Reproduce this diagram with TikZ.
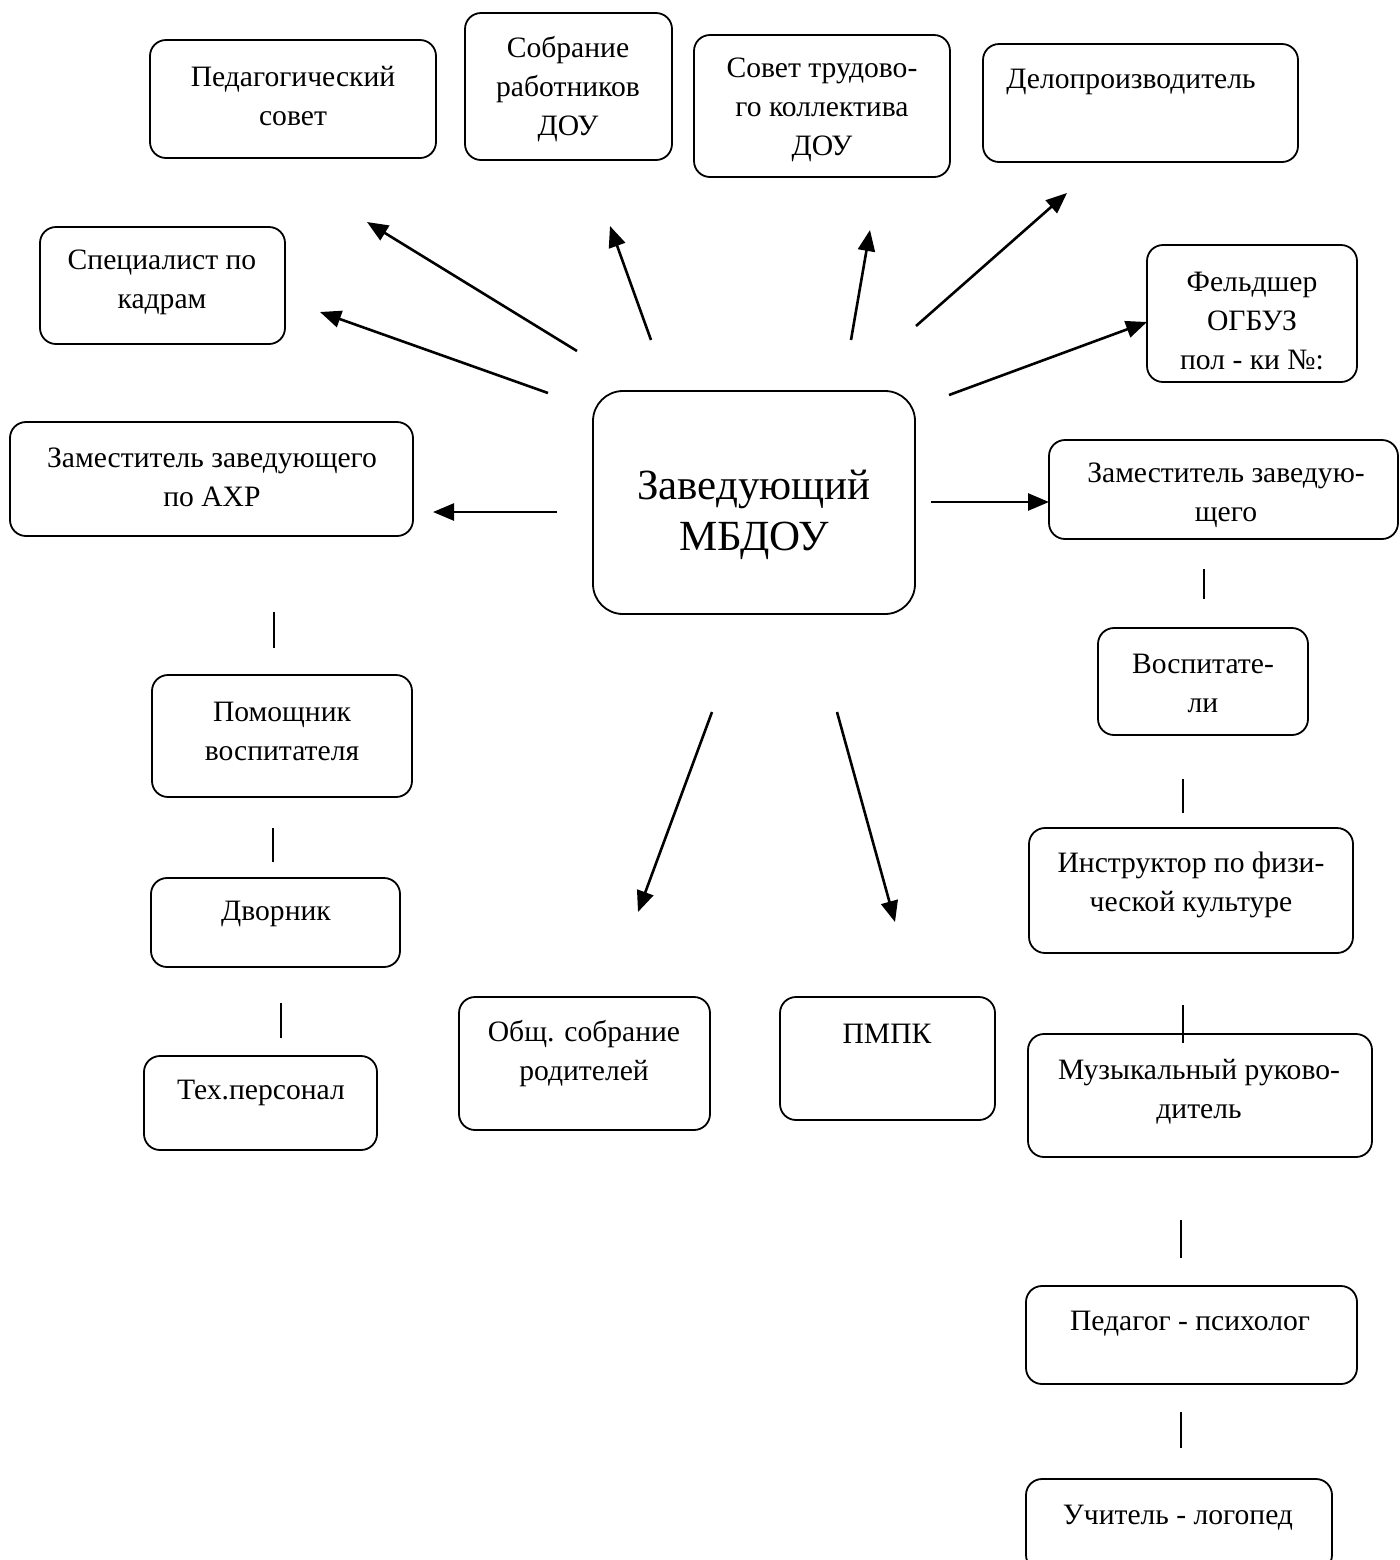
\documentclass[tikz,border=0pt]{standalone}
\usepackage{fontspec}
\setmainfont{Liberation Serif}
\usetikzlibrary{arrows.meta}

\tikzset{
  blk/.style={draw, rounded corners=8pt, line width=0.9pt, inner sep=0pt},
  txt/.style={align=center, inner sep=0pt, yshift=-1.5pt, font=\fontsize{14.8}{19.5}\selectfont},
  arr/.style={line width=1.3pt, -{Triangle[length=10.5pt,width=8.5pt]}},
  tick/.style={line width=0.8pt}
}

\begin{document}
\begin{tikzpicture}[x=0.5pt,y=-0.5pt]
\useasboundingbox (0,0) rectangle (1400,1560);

% top row
\node[blk, minimum width=143pt, minimum height=59pt] (ped) at (293,99) {};
\node[txt] (pedT) at (293,93) {Педагогический\\совет};
\node[blk, minimum width=103.5pt, minimum height=73.5pt] (sobr) at (568.5,86.5) {};
\node[txt] (sobrT) at (568,86.5) {Собрание\\работников\\ДОУ};
\node[blk, minimum width=128pt, minimum height=71pt] (stk) at (822,106) {};
\node[txt] (stkT) at (822,107) {Совет трудово-\\го коллектива\\ДОУ};
\node[blk, minimum width=157.5pt, minimum height=59pt] (delo) at (1140.5,103) {};
\node[txt] (deloT) at (1131,79) {Делопроизводитель};
\node[blk, minimum width=122.5pt, minimum height=58.5pt] (kadr) at (162.5,285.5) {};
\node[txt] (kadrT) at (162,279) {Специалист по\\кадрам};
\node[blk, minimum width=105pt, minimum height=68.5pt] (feld) at (1252,313.5) {};
\node[txt] (feldT) at (1252,318) {Фельдшер\\ОГБУЗ\\пол - ки №:};

% centre
\node[blk, rounded corners=15pt, minimum width=161pt, minimum height=111.5pt] (zav) at (754,502.5) {};
\node[txt, font=\fontsize{21.5}{25.5}\selectfont] (zavT) at (754,512) {Заведующий\\МБДОУ};

% left column
\node[blk, minimum width=201.5pt, minimum height=57pt] (ahr) at (211.5,479) {};
\node[txt] (ahrT) at (212,474) {Заместитель заведующего\\по АХР};
\node[blk, minimum width=130pt, minimum height=61pt] (pom) at (282,736) {};
\node[txt] (pomT) at (282,728) {Помощник\\воспитателя};
\node[blk, minimum width=124.5pt, minimum height=44.5pt] (dvor) at (275.5,922.5) {};
\node[txt] (dvorT) at (276,911) {Дворник};
\node[blk, minimum width=116.5pt, minimum height=47pt] (teh) at (260.5,1103) {};
\node[txt] (tehT) at (261,1090) {Тех.персонал};

% bottom middle
\node[blk, minimum width=125.5pt, minimum height=66.5pt] (rod) at (584.5,1063.5) {};
\node[txt] (rodT) at (584,1051) {Общ. собрание\\родителей};
\node[blk, minimum width=107.5pt, minimum height=61.5pt] (pmpk) at (887.5,1058.5) {};
\node[txt] (pmpkT) at (887,1031) {ПМПК};

% right column
\node[blk, minimum width=174.5pt, minimum height=49.5pt] (zam) at (1223.5,489.5) {};
\node[txt] (zamT) at (1226,492) {Заместитель заведую-\\щего};
\node[blk, minimum width=105pt, minimum height=53.5pt] (vosp) at (1203,681.5) {};
\node[txt] (vospT) at (1203,680) {Воспитате-\\ли};
\node[blk, minimum width=162pt, minimum height=62.5pt] (fiz) at (1191,890.5) {};
\node[txt] (fizT) at (1191,882) {Инструктор по физи-\\ческой культуре};
\node[blk, minimum width=172pt, minimum height=61.5pt] (muz) at (1200,1095.5) {};
\node[txt] (muzT) at (1199,1089) {Музыкальный руково-\\дитель};
\node[blk, minimum width=165.5pt, minimum height=49pt] (psy) at (1191.5,1335) {};
\node[txt] (psyT) at (1190,1321) {Педагог - психолог};
\node[blk, minimum width=153pt, minimum height=46pt] (log) at (1179,1525) {};
\node[txt] (logT) at (1178,1515) {Учитель - логопед};

% arrow ends
\coordinate (a1) at (577,351);  \coordinate (b1) at (367,222);
\coordinate (a2) at (651,340);  \coordinate (b2) at (610,226);
\coordinate (a3) at (851,340);  \coordinate (b3) at (870,230);
\coordinate (a4) at (916,326);  \coordinate (b4) at (1067,193);
\coordinate (a5) at (548,393);  \coordinate (b5) at (320,312);
\coordinate (a6) at (949,395);  \coordinate (b6) at (1147,322);
\coordinate (a7) at (557,512);  \coordinate (b7) at (433,512);
\coordinate (a8) at (931,502);  \coordinate (b8) at (1049,502);
\coordinate (a9) at (712,712);  \coordinate (b9) at (638,912);
\coordinate (a10) at (837,712); \coordinate (b10) at (895,922);

\foreach \i in {1,...,10}
  \draw[arr] (a\i) -- (b\i);

% short bars
\coordinate (t1) at (274,612);   \coordinate (u1) at (274,648);
\coordinate (t2) at (273,828);   \coordinate (u2) at (273,862);
\coordinate (t3) at (281,1003);  \coordinate (u3) at (281,1038);
\coordinate (t4) at (1204,569);  \coordinate (u4) at (1204,599);
\coordinate (t5) at (1183,779);  \coordinate (u5) at (1183,813);
\coordinate (t6) at (1183,1005); \coordinate (u6) at (1183,1043);
\coordinate (t7) at (1181,1220); \coordinate (u7) at (1181,1258);
\coordinate (t8) at (1181,1412); \coordinate (u8) at (1181,1448);

\foreach \i in {1,...,8}
  \draw[tick] (t\i) -- (u\i);

\end{tikzpicture}
\end{document}
